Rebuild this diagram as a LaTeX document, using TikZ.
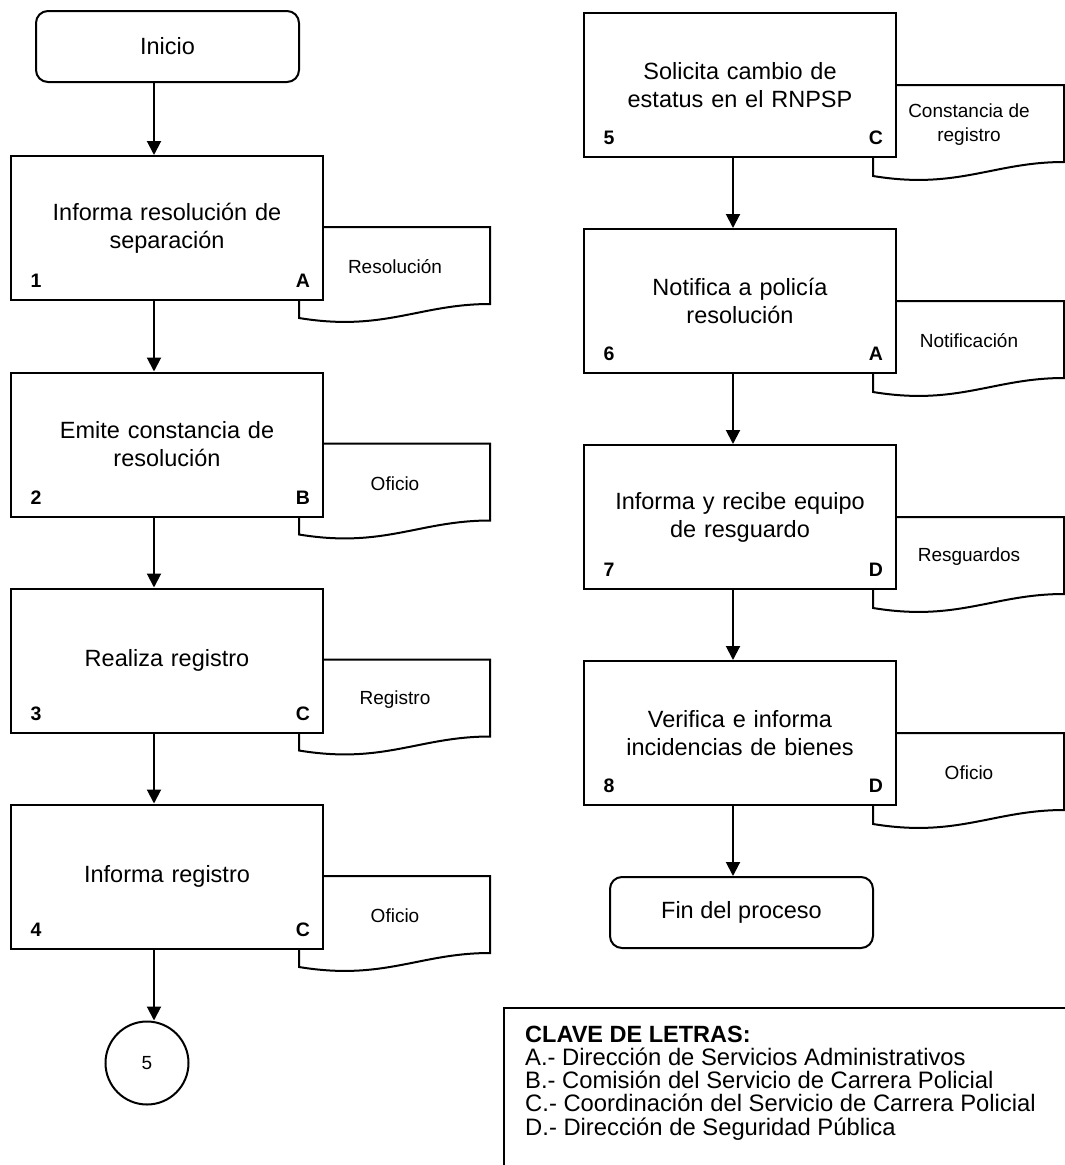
\documentclass[tikz,border=0pt]{standalone}
\usepackage{fontspec}
\setmainfont{Liberation Sans}
\usetikzlibrary{arrows.meta,calc}

% document symbol: #1 name, #2 left x, #3 top y, #4 caption
\newcommand{\docsym}[4]{%
  \draw[docline] (#2,#3) -- ++(191,0) -- ++(0,77)
    .. controls +(-71,0) and +(85,14) .. ++(-191,14) -- cycle;
  \node[doctext] (#1) at (#2+96,#3+40) {#4};
}

\begin{document}
\begin{tikzpicture}[x=1pt,y=-1pt,
  every node/.style={inner sep=0pt},
  proc/.style={draw,line width=2pt,fill=white,minimum width=312pt,
    minimum height=144pt,align=center,text width=300pt,
    font=\fontsize{23.5}{28}\selectfont},
  term/.style={draw,line width=2pt,fill=white,rounded corners=12pt,
    minimum width=263pt,minimum height=71pt,
    font=\fontsize{23.5}{28}\selectfont},
  docline/.style={draw,line width=2pt,fill=white},
  doctext/.style={align=center,font=\fontsize{19}{24}\selectfont},
  tag/.style={font=\bfseries\fontsize{19.5}{22}\selectfont},
  flow/.style={line width=2pt,-{Triangle[length=14pt,width=14pt]}},
  legend/.style={anchor=base west,font=\fontsize{23.8}{23.3}\selectfont},
]
\useasboundingbox (0,0) rectangle (1065,1165);

% vertical lines of the two columns
\coordinate (lx) at (154,0);
\coordinate (rx) at (733,0);

% ---------- left column ----------
\node[term] (ini) at (167.5,46.5) {Inicio};

\docsym{d1}{299}{227}{Resolución}
\node[proc] (b1) at (167,228) {Informa resolución de\\separación};

\docsym{d2}{299}{443.5}{Oficio}
\node[proc] (b2) at (167,444.5) {Emite constancia de\\resolución};

\docsym{d3}{299}{659.5}{Registro}
\node[proc] (b3) at (167,660.5) {Realiza registro};

\docsym{d4}{299}{876}{Oficio}
\node[proc] (b4) at (167,876.5) {Informa registro};

\node[draw,circle,line width=2pt,minimum size=83pt,
  font=\fontsize{19}{22}\selectfont] (c5) at (147,1063) {5};

% ---------- right column ----------
\docsym{d5}{873}{85}{Constancia de\\registro}
\node[proc] (b5) at (740,85) {Solicita cambio de\\estatus en el RNPSP};

\docsym{d6}{873}{301}{Notificación}
\node[proc] (b6) at (740,301) {Notifica a policía\\resolución};

\docsym{d7}{873}{517}{Resguardos}
\node[proc] (b7) at (740,517) {Informa y recibe equipo\\de resguardo};

\docsym{d8}{873}{733}{Oficio}
\node[proc] (b8) at (740,733) {Verifica e informa\\incidencias de bienes};

\node[term] (fin) at (741.5,912.5) {Fin del proceso};

% ---------- step numbers and responsible units ----------
\foreach \b/\n/\l in {b1/1/A, b2/2/B, b3/3/C, b4/4/C,
                      b5/5/C, b6/6/A, b7/7/D, b8/8/D}{
  \node[tag] at ([xshift=26pt,yshift=20pt]\b.south west) {\n};
  \node[tag] at ([xshift=-21pt,yshift=20pt]\b.south east) {\l};
}

% ---------- flow ----------
\draw[flow] (ini.south -| lx) -- (b1.north -| lx);
\draw[flow] (b1.south -| lx) -- (b2.north -| lx);
\draw[flow] (b2.south -| lx) -- (b3.north -| lx);
\draw[flow] (b3.south -| lx) -- (b4.north -| lx);
\draw[flow] (b4.south -| lx) -- (c5.north -| lx);

\draw[flow] (b5.south -| rx) -- (b6.north -| rx);
\draw[flow] (b6.south -| rx) -- (b7.north -| rx);
\draw[flow] (b7.south -| rx) -- (b8.north -| rx);
\draw[flow] (b8.south -| rx) -- (fin.north -| rx);

% ---------- key of letters ----------
\draw[line width=2pt] (504,1170) -- (504,1008) -- (1070,1008);
\node[legend,font=\bfseries\fontsize{23.5}{23.3}\selectfont] (k0) at (525,1042) {CLAVE DE LETRAS:};
\node[legend] (k1) at (525,1065.3) {A.- Dirección de Servicios Administrativos};
\node[legend] (k2) at (525,1088.6) {B.- Comisión del Servicio de Carrera Policial};
\node[legend] (k3) at (525,1111.9) {C.- Coordinación del Servicio de Carrera Policial};
\node[legend] (k4) at (525,1135.2) {D.- Dirección de Seguridad Pública};
\end{tikzpicture}
\end{document}
